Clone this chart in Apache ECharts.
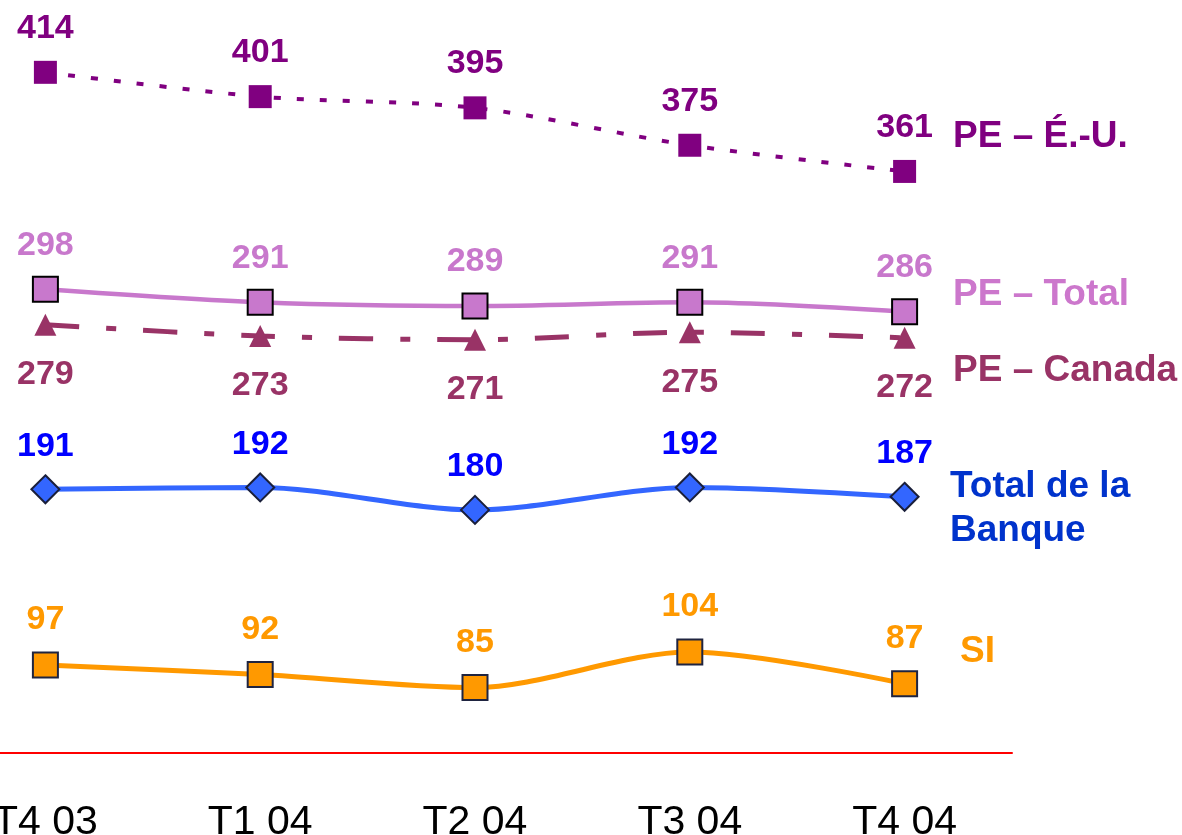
<!DOCTYPE html>
<html>
<head>
<meta charset="utf-8">
<script src="https://cdn.jsdelivr.net/npm/echarts@6/dist/echarts.min.js"></script>
<style>
  html, body { margin: 0; padding: 0; background: #fff; overflow: hidden; }
  body { width: 1182px; height: 835px; position: relative; }
  /* the first quarter sits half outside the page, so the canvas starts left of it */
  #chart { position: absolute; left: -62px; top: 0; width: 1244px; height: 835px; }
</style>
</head>
<body>
<div id="chart"></div>
<script>
// quarters on the x axis
var categories = ['T4 03', 'T1 04', 'T2 04', 'T3 04', 'T4 04']
// series values
var peEU = [414, 401, 395, 375, 361]
var peTotal = [298, 291, 289, 291, 286]
var peCanada = [279, 273, 271, 275, 272]
var totalBanque = [191, 192, 180, 192, 187]
var si = [97, 92, 85, 104, 87]

var FONT = "'Liberation Sans', Arial, sans-serif"
var SHIFT = 62

var chart = echarts.init(document.getElementById('chart'))

function valueLabel(color, dy) {
	return {
		show: true,
		position: 'inside',
		offset: [0, dy],
		color: color,
		fontSize: 34,
		fontWeight: 'bold',
		fontFamily: FONT,
	}
}

function nameText(text, left, top, color) {
	return {
		type: 'text',
		left: left + SHIFT,
		top: top,
		style: {
			text: text,
			fill: color,
			font: 'bold 37px ' + FONT,
			lineHeight: 44,
		},
	}
}

var options = {
	animation: false,
	backgroundColor: '#ffffff',
	grid: {
		left: 0,
		top: 5,
		width: 1074,
		height: 748,
		outerBoundsMode: 'none',
		containLabel: false,
	},
	xAxis: {
		type: 'category',
		data: categories,
		boundaryGap: true,
		axisLine: { show: true, lineStyle: { color: '#ff0000', width: 2 } },
		axisTick: { show: false },
		axisLabel: {
			color: '#000',
			fontSize: 41,
			fontFamily: FONT,
			margin: 49,
		},
	},
	yAxis: {
		type: 'value',
		min: 50,
		max: 450,
		show: false,
		splitLine: { show: false },
	},
	graphic: [
		nameText('PE – É.-U.', 953, 115, '#800080'),
		nameText('PE – Total', 953, 273, '#cc77cc'),
		nameText('PE – Canada', 953, 349, '#993366'),
		nameText('Total de la\nBanque', 950, 465, '#0033cc'),
		nameText('SI', 960, 630, '#ff9900'),
	],
	series: [
		{
			name: 'PE – É.-U.',
			type: 'line',
			data: peEU,
			smooth: 0.3,
			symbol: 'rect',
			symbolSize: 23,
			itemStyle: { color: '#800080' },
			lineStyle: { color: '#800080', width: 4, type: [7, 16] },
			label: valueLabel('#800080', -44),
		},
		{
			name: 'PE – Total',
			type: 'line',
			data: peTotal,
			smooth: 0.3,
			symbol: 'rect',
			symbolSize: 25,
			itemStyle: { color: '#c878cc', borderColor: '#000', borderWidth: 2 },
			lineStyle: { color: '#c878cc', width: 4.5 },
			label: valueLabel('#c878cc', -44),
		},
		{
			name: 'PE – Canada',
			type: 'line',
			data: peCanada,
			smooth: 0.3,
			symbol: 'triangle',
			symbolSize: 22,
			itemStyle: { color: '#993366' },
			lineStyle: { color: '#993366', width: 5, type: [34, 27, 10, 27] },
			label: valueLabel('#993366', 50),
		},
		{
			name: 'Total de la Banque',
			type: 'line',
			data: totalBanque,
			smooth: 0.3,
			symbol: 'diamond',
			symbolSize: 28,
			itemStyle: { color: '#3366ff', borderColor: '#1a1f3a', borderWidth: 2 },
			lineStyle: { color: '#3366ff', width: 5 },
			label: valueLabel('#0000ff', -43),
		},
		{
			name: 'SI',
			type: 'line',
			data: si,
			smooth: 0.3,
			symbol: 'rect',
			symbolSize: 25,
			itemStyle: { color: '#ff9900', borderColor: '#1f2440', borderWidth: 2 },
			lineStyle: { color: '#ff9900', width: 5 },
			label: valueLabel('#ff9900', -45),
		},
	],
}

chart.setOption(options, true)
</script>
</body>
</html>
